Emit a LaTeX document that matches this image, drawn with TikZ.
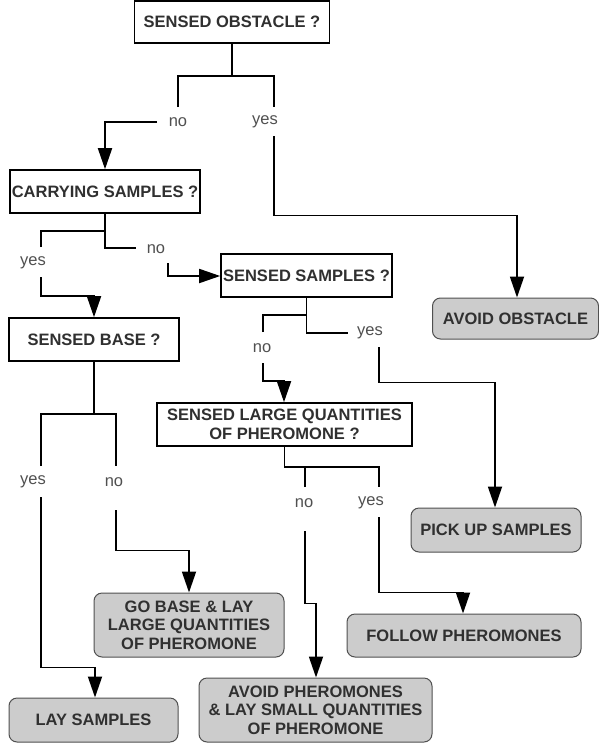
\documentclass[tikz,border=0pt]{standalone}
\usepackage{fontspec}
\setmainfont{Liberation Sans}
\usetikzlibrary{arrows.meta,calc}
\definecolor{txt}{HTML}{303030}
\definecolor{lbl}{HTML}{505050}
\definecolor{boxfill}{HTML}{CCCCCC}
\definecolor{boxline}{HTML}{505050}
\begin{document}
\begin{tikzpicture}[x=1pt,y=-1pt,
  q/.style={draw=black, line width=1.6pt, fill=white, font=\fontsize{16.5}{18.5}\selectfont\bfseries, text=txt, inner sep=0pt, align=center},
  act/.style={draw=boxline, line width=1pt, fill=boxfill, rounded corners=8pt, font=\fontsize{16.5}{18.5}\selectfont\bfseries, text=txt, inner sep=0pt, align=center},
  lab/.style={font=\fontsize{16.5}{18}\selectfont, text=lbl, inner sep=0pt},
  conn/.style={line width=1.8pt, black},
  arr/.style={conn, -{Triangle[length=21pt,width=14pt]}}]
\useasboundingbox (0,0) rectangle (599,744);
\fill[white] (0,0) rectangle (599,744);

% question boxes
\node[q, minimum width=195pt, minimum height=42pt] (obstacle) at (232,22) {SENSED OBSTACLE ?};
\node[q, minimum width=190pt, minimum height=43pt] (carrying) at (105,191.5) {CARRYING SAMPLES ?};
\node[q, minimum width=171pt, minimum height=43pt] (sensedsamples) at (306.5,275.5) {SENSED SAMPLES ?};
\node[q, minimum width=170pt, minimum height=43pt] (sensedbase) at (94,339.5) {SENSED BASE ?};
\node[q, minimum width=255pt, minimum height=43pt] (sensedlarge) at (284.5,424.5) {SENSED LARGE QUANTITIES\\OF PHEROMONE ?};

% action boxes
\node[act, minimum width=166pt, minimum height=41pt] (avoidobst) at (515.5,318.5) {AVOID OBSTACLE};
\node[act, minimum width=170pt, minimum height=44pt] (pickup) at (496,530) {PICK UP SAMPLES};
\node[act, minimum width=190pt, minimum height=64pt] (gobase) at (189,625) {GO BASE \& LAY\\LARGE QUANTITIES\\OF PHEROMONE};
\node[act, minimum width=234pt, minimum height=43pt] (follow) at (464,635.5) {FOLLOW PHEROMONES};
\node[act, minimum width=233pt, minimum height=64pt] (avoidph) at (315.5,710) {AVOID PHEROMONES\\\& LAY SMALL QUANTITIES\\OF PHEROMONE};
\node[act, minimum width=169pt, minimum height=44pt] (laysamples) at (93.5,720) {LAY SAMPLES};

% labels
\node[lab] (obsno) at (178,122) {no};
\node[lab] (obsyes) at (265,122) {yes};
\node[lab] (carno) at (156,249) {no};
\node[lab] (caryes) at (33,263) {yes};
\node[lab] (ssno) at (262,348) {no};
\node[lab] (ssyes) at (370,333) {yes};
\node[lab] (slno) at (304,503) {no};
\node[lab] (slyes) at (371,503) {yes};
\node[lab] (sbyes) at (33,482) {yes};
\node[lab] (sbno) at (114,482) {no};

% fork coordinates
\coordinate (f1) at (232,76);
\coordinate (f1L) at (178,107);
\coordinate (f1R) at (274,107);
\coordinate (o1) at (157,122);
\coordinate (o2) at (274,136);

\coordinate (f2) at (105,231);
\coordinate (f2L) at (41,247);
\coordinate (f2R) at (136,248);
\coordinate (c1) at (168,263);
\coordinate (c2) at (41,277);

\coordinate (f3) at (306,315);
\coordinate (f3L) at (263,332);
\coordinate (f3R) at (348,333);
\coordinate (s1) at (263,363);
\coordinate (s2) at (379,347);

\coordinate (f4) at (284,467);
\coordinate (f4L) at (305,487);
\coordinate (f4R) at (379,487);
\coordinate (l1) at (305,531);
\coordinate (l2) at (379,517);

\coordinate (f5) at (94,414);
\coordinate (f5L) at (41,466);
\coordinate (f5R) at (116,466);
\coordinate (b1) at (41,497);
\coordinate (b2) at (116,510);

% forks
\draw[conn] (obstacle.south) -- (f1);
\draw[conn] (f1L) |- (f1) -| (f1R);
\draw[arr] (o1) -| (carrying.north);
\draw[arr] (o2) |- ($(avoidobst.north)+(1.5,-82)$) -- ($(avoidobst.north)+(1.5,0)$);

\draw[conn] (carrying.south) |- (f2R);
\draw[conn] (f2L) |- (f2);
\draw[arr] (c1) |- (sensedsamples.west |- 0,276);
\draw[arr] (c2) |- ($(sensedbase.north)+(0,-21)$) -- (sensedbase.north);

\draw[conn] (sensedsamples.south) |- (f3R);
\draw[conn] (f3L) |- (f3);
\draw[arr] (s1) |- ($(sensedlarge.north)+(-0.5,-21)$) -- ($(sensedlarge.north)+(-0.5,0)$);
\draw[arr] (s2) |- ($(pickup.north)+(-1,-125)$) -- ($(pickup.north)+(-1,0)$);

\draw[conn] (sensedlarge.south) |- (f4) -| (f4R);
\draw[conn] (f4L) -- (f4L |- f4);
\draw[arr] (l1) |- ($(avoidph.north)+(0.5,-74)$) -- ($(avoidph.north)+(0.5,0)$);
\draw[arr] (l2) |- ($(follow.north)+(-1,-21)$) -- ($(follow.north)+(-1,0)$);

\draw[conn] (sensedbase.south) -- (f5);
\draw[conn] (f5L) |- (f5) -| (f5R);
\draw[arr] (b1) |- ($(laysamples.north)+(1.5,-30)$) -- ($(laysamples.north)+(1.5,0)$);
\draw[arr] (b2) |- ($(gobase.north)+(0,-42)$) -- (gobase.north);
\end{tikzpicture}
\end{document}
